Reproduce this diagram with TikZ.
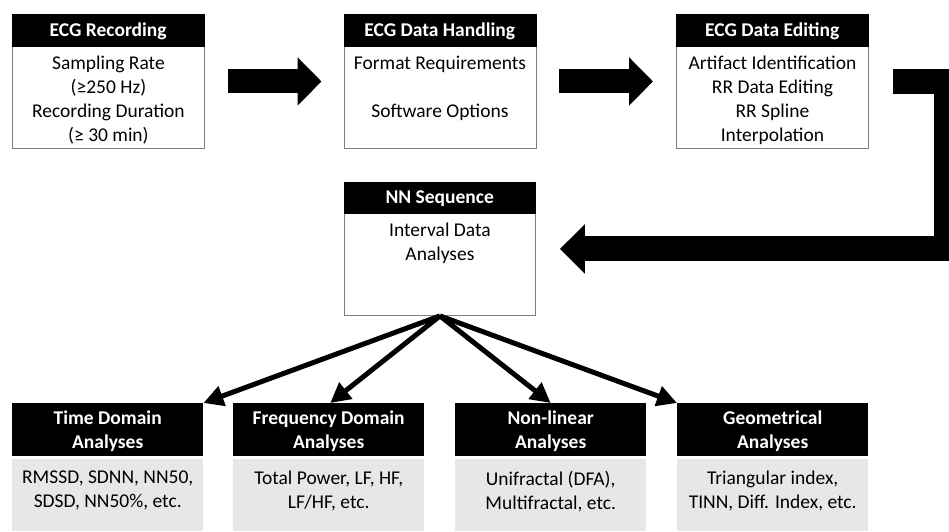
\documentclass[tikz,border=0pt]{standalone}
\usepackage{fontspec}
\setmainfont{Carlito}
\usetikzlibrary{arrows.meta}
\definecolor{panelgray}{RGB}{231,231,231}
\definecolor{framegray}{RGB}{128,128,128}
\newcommand{\hdrfont}{\fontsize{19.5}{24}\selectfont\bfseries}
\newcommand{\txtfont}{\fontsize{19.5}{24}\selectfont}

\begin{document}
\begin{tikzpicture}[x=1pt,y=-1pt,
  tophead/.style={anchor=north west, fill=black, draw=black, text=white,
    font=\hdrfont, inner sep=0pt, text height=13.7pt, text depth=2pt,
    minimum width=192pt, minimum height=32pt},
  topbody/.style={anchor=north west, fill=white, draw=framegray, line width=0.9pt,
    inner sep=0pt, minimum width=192pt, minimum height=102pt},
  lowhead/.style={anchor=north west, fill=black, text=white, align=center,
    font=\hdrfont, inner sep=0pt, text depth=0.5pt,
    minimum width=191pt, minimum height=53pt},
  lowbody/.style={anchor=north west, fill=panelgray, inner sep=0pt,
    minimum width=191pt, minimum height=72pt},
  bodytext/.style={anchor=north, inner sep=0pt, align=center, font=\txtfont},
  blockarrow/.style={line width=24pt, -{Triangle[length=24pt,width=47pt]}},
  returnarrow/.style={line width=25pt, line join=miter, -{Triangle[length=25pt,width=48pt]}},
  branch/.style={line width=5pt, -{Triangle[length=20pt,width=20pt]}}]

\useasboundingbox (0,0) rectangle (949,531);
\clip (0,0) rectangle (949,531);

% --- top row: processing stages ---
\node[topbody] (rec)  at (12,46) {};
\node[tophead] (rech) at (12,14) {ECG Recording};
\node[bodytext] (rect) at ([yshift=-9.5pt]rec.north)
  {Sampling Rate\\(≥250 Hz)\\Recording Duration\\(≥ 30 min)};

\node[topbody] (hdl)  at (343.5,46) {};
\node[tophead] (hdlh) at (343.5,14) {ECG Data Handling};
\node[bodytext] (hdlt) at ([yshift=-9.5pt]hdl.north)
  {Format Requirements\\[24pt]Software Options};

\node[topbody] (edt)  at (676,46) {};
\node[tophead] (edth) at (676,14) {ECG Data Editing};
\node[bodytext] (edtt) at ([yshift=-9.5pt]edt.north)
  {Artifact Identification\\RR Data Editing\\RR Spline\\Interpolation};

% --- NN sequence box ---
\node[topbody, minimum width=191pt] (nn)  at (344,213) {};
\node[tophead, minimum width=191pt, minimum height=31pt] (nnh) at (344,182) {NN Sequence};
\node[bodytext] (nnt) at ([yshift=-9.5pt]nn.north) {Interval Data\\Analyses};

% --- bottom row: analysis families ---
\node[lowbody] (td) at (12,459) {};
\node[lowhead] (tdh) at (12,403) {Time Domain\\Analyses};
\node[bodytext] (tdt) at ([yshift=-12pt]td.north) {RMSSD, SDNN, NN50,\\SDSD, NN50\%, etc.};

\node[lowbody] (fd) at (233,459) {};
\node[lowhead] (fdh) at (233,403) {Frequency Domain\\Analyses};
\node[bodytext] (fdt) at ([yshift=-12pt]fd.north) {Total Power, LF, HF,\\LF/HF, etc.};

\node[lowbody] (nl) at (455,459) {};
\node[lowhead] (nlh) at (455,403) {Non-linear\\Analyses};
\node[bodytext] (nlt) at ([yshift=-12pt]nl.north) {Unifractal (DFA),\\Multifractal, etc.};

\node[lowbody] (ge) at (677,459) {};
\node[lowhead] (geh) at (677,403) {Geometrical\\Analyses};
\node[bodytext] (get) at ([yshift=-12pt]ge.north) {Triangular index,\\TINN, Diff. Index, etc.};

% --- block arrows between stages ---
\draw[blockarrow, shorten <=23pt, shorten >=22pt]
  ([yshift=16pt]rec.east) -- ([yshift=16pt]hdl.west);
\draw[blockarrow, shorten <=23pt, shorten >=23pt]
  ([yshift=16pt]hdl.east) -- ([yshift=16pt]edt.west);
\draw[returnarrow, shorten <=24pt, shorten >=24pt]
  ([yshift=15.5pt]edt.east) -- ++(77.5,0) |- ([yshift=15.5pt]nn.east);

% --- branches to the analysis families ---
\draw[branch] (nn.south) -- (tdh.north east);
\draw[branch] (nn.south) -- ([xshift=1.5pt]fdh.north);
\draw[branch] (nn.south) -- (nlh.north);
\draw[branch] (nn.south) -- (geh.north west);
\end{tikzpicture}
\end{document}
